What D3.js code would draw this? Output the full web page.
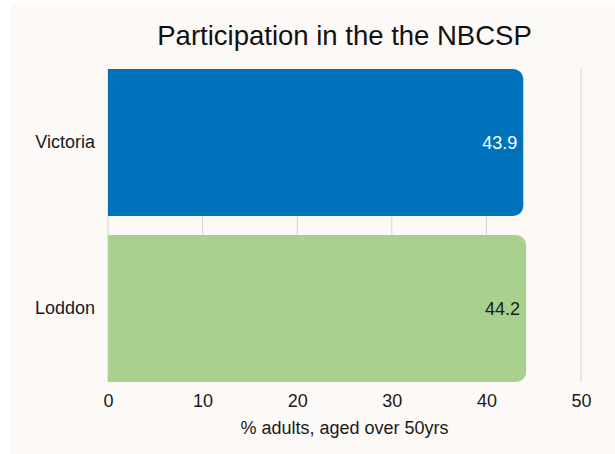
<!DOCTYPE html>
<html>
<head>
<meta charset="utf-8">
<script src="https://cdn.jsdelivr.net/npm/d3@7"></script>
<style>
  body { margin: 0; background: #ffffff; }
  text { font-family: "Liberation Sans", Arial, sans-serif; }
</style>
</head>
<body>
<div id="chart"></div>
<script>
// data
var categories = ["Victoria", "Loddon"];
var values = [43.9, 44.2];
var barColors = ["#0072bc", "#a9d18e"];
var labelColors = ["#ffffff", "#1a1a1a"];
var tickValues = [0, 10, 20, 30, 40, 50];

var svgWidth = 615;
var svgHeight = 454;

var svg = d3.select("#chart")
  .append("svg")
  .attr("width", svgWidth)
  .attr("height", svgHeight);

// panel background
svg.append("rect")
  .attr("x", 11)
  .attr("y", 5)
  .attr("width", svgWidth - 11)
  .attr("height", svgHeight - 5)
  .attr("fill", "#fcf9f6");

var x = d3.scaleLinear()
  .domain([0, 50])
  .range([108, 581]);

var y = d3.scaleBand()
  .domain(categories)
  .range([69, 382])
  .paddingInner(0.115)
  .paddingOuter(0);

// gridlines
svg.append("g")
  .selectAll("line")
  .data(tickValues)
  .enter()
  .append("line")
  .attr("x1", d => x(d))
  .attr("x2", d => x(d))
  .attr("y1", 69)
  .attr("y2", 382)
  .attr("stroke", "#d4d2d0")
  .attr("stroke-width", 1);

// bars with rounded right end
var r = 10;
function barPath(x0, x1, y0, h) {
  var w = x1 - x0;
  return "M" + x0 + "," + y0 +
    "H" + (x0 + w - r) +
    "A" + r + "," + r + " 0 0 1 " + (x0 + w) + "," + (y0 + r) +
    "V" + (y0 + h - r) +
    "A" + r + "," + r + " 0 0 1 " + (x0 + w - r) + "," + (y0 + h) +
    "H" + x0 + "Z";
}

svg.append("g")
  .selectAll("path")
  .data(categories)
  .enter()
  .append("path")
  .attr("d", (d, i) => barPath(x(0), x(values[i]), y(d), y.bandwidth()))
  .attr("fill", (d, i) => barColors[i]);

// value labels
svg.append("g")
  .selectAll("text")
  .data(categories)
  .enter()
  .append("text")
  .attr("x", (d, i) => x(values[i]) - 6)
  .attr("y", d => y(d) + y.bandwidth() / 2)
  .attr("dy", "0.35em")
  .attr("text-anchor", "end")
  .attr("font-size", "18px")
  .attr("fill", (d, i) => labelColors[i])
  .text((d, i) => values[i].toFixed(1));

// category axis
var leftAxis = d3.axisLeft(y).tickSize(0).tickPadding(13);
var gy = svg.append("g")
  .attr("transform", `translate(${x(0)}, 0)`)
  .call(leftAxis);
gy.select(".domain").remove();
gy.selectAll("text")
  .attr("font-size", "18px")
  .attr("font-family", "Liberation Sans, Arial, sans-serif")
  .attr("fill", "#1a1a1a");

// value axis
var bottomAxis = d3.axisBottom(x).tickValues(tickValues).tickSize(0).tickPadding(12);
var gx = svg.append("g")
  .attr("transform", "translate(0, 382)")
  .call(bottomAxis);
gx.select(".domain").remove();
gx.selectAll("text")
  .attr("font-size", "18px")
  .attr("font-family", "Liberation Sans, Arial, sans-serif")
  .attr("fill", "#1a1a1a");

// axis title
svg.append("text")
  .attr("x", (x(0) + x(50)) / 2)
  .attr("y", 434)
  .attr("text-anchor", "middle")
  .attr("font-size", "18px")
  .attr("fill", "#1a1a1a")
  .text("% adults, aged over 50yrs");

// chart title
svg.append("text")
  .attr("x", (x(0) + x(50)) / 2)
  .attr("y", 45)
  .attr("text-anchor", "middle")
  .attr("font-size", "27.5px")
  .attr("fill", "#111111")
  .text("Participation in the the NBCSP");
</script>
</body>
</html>
